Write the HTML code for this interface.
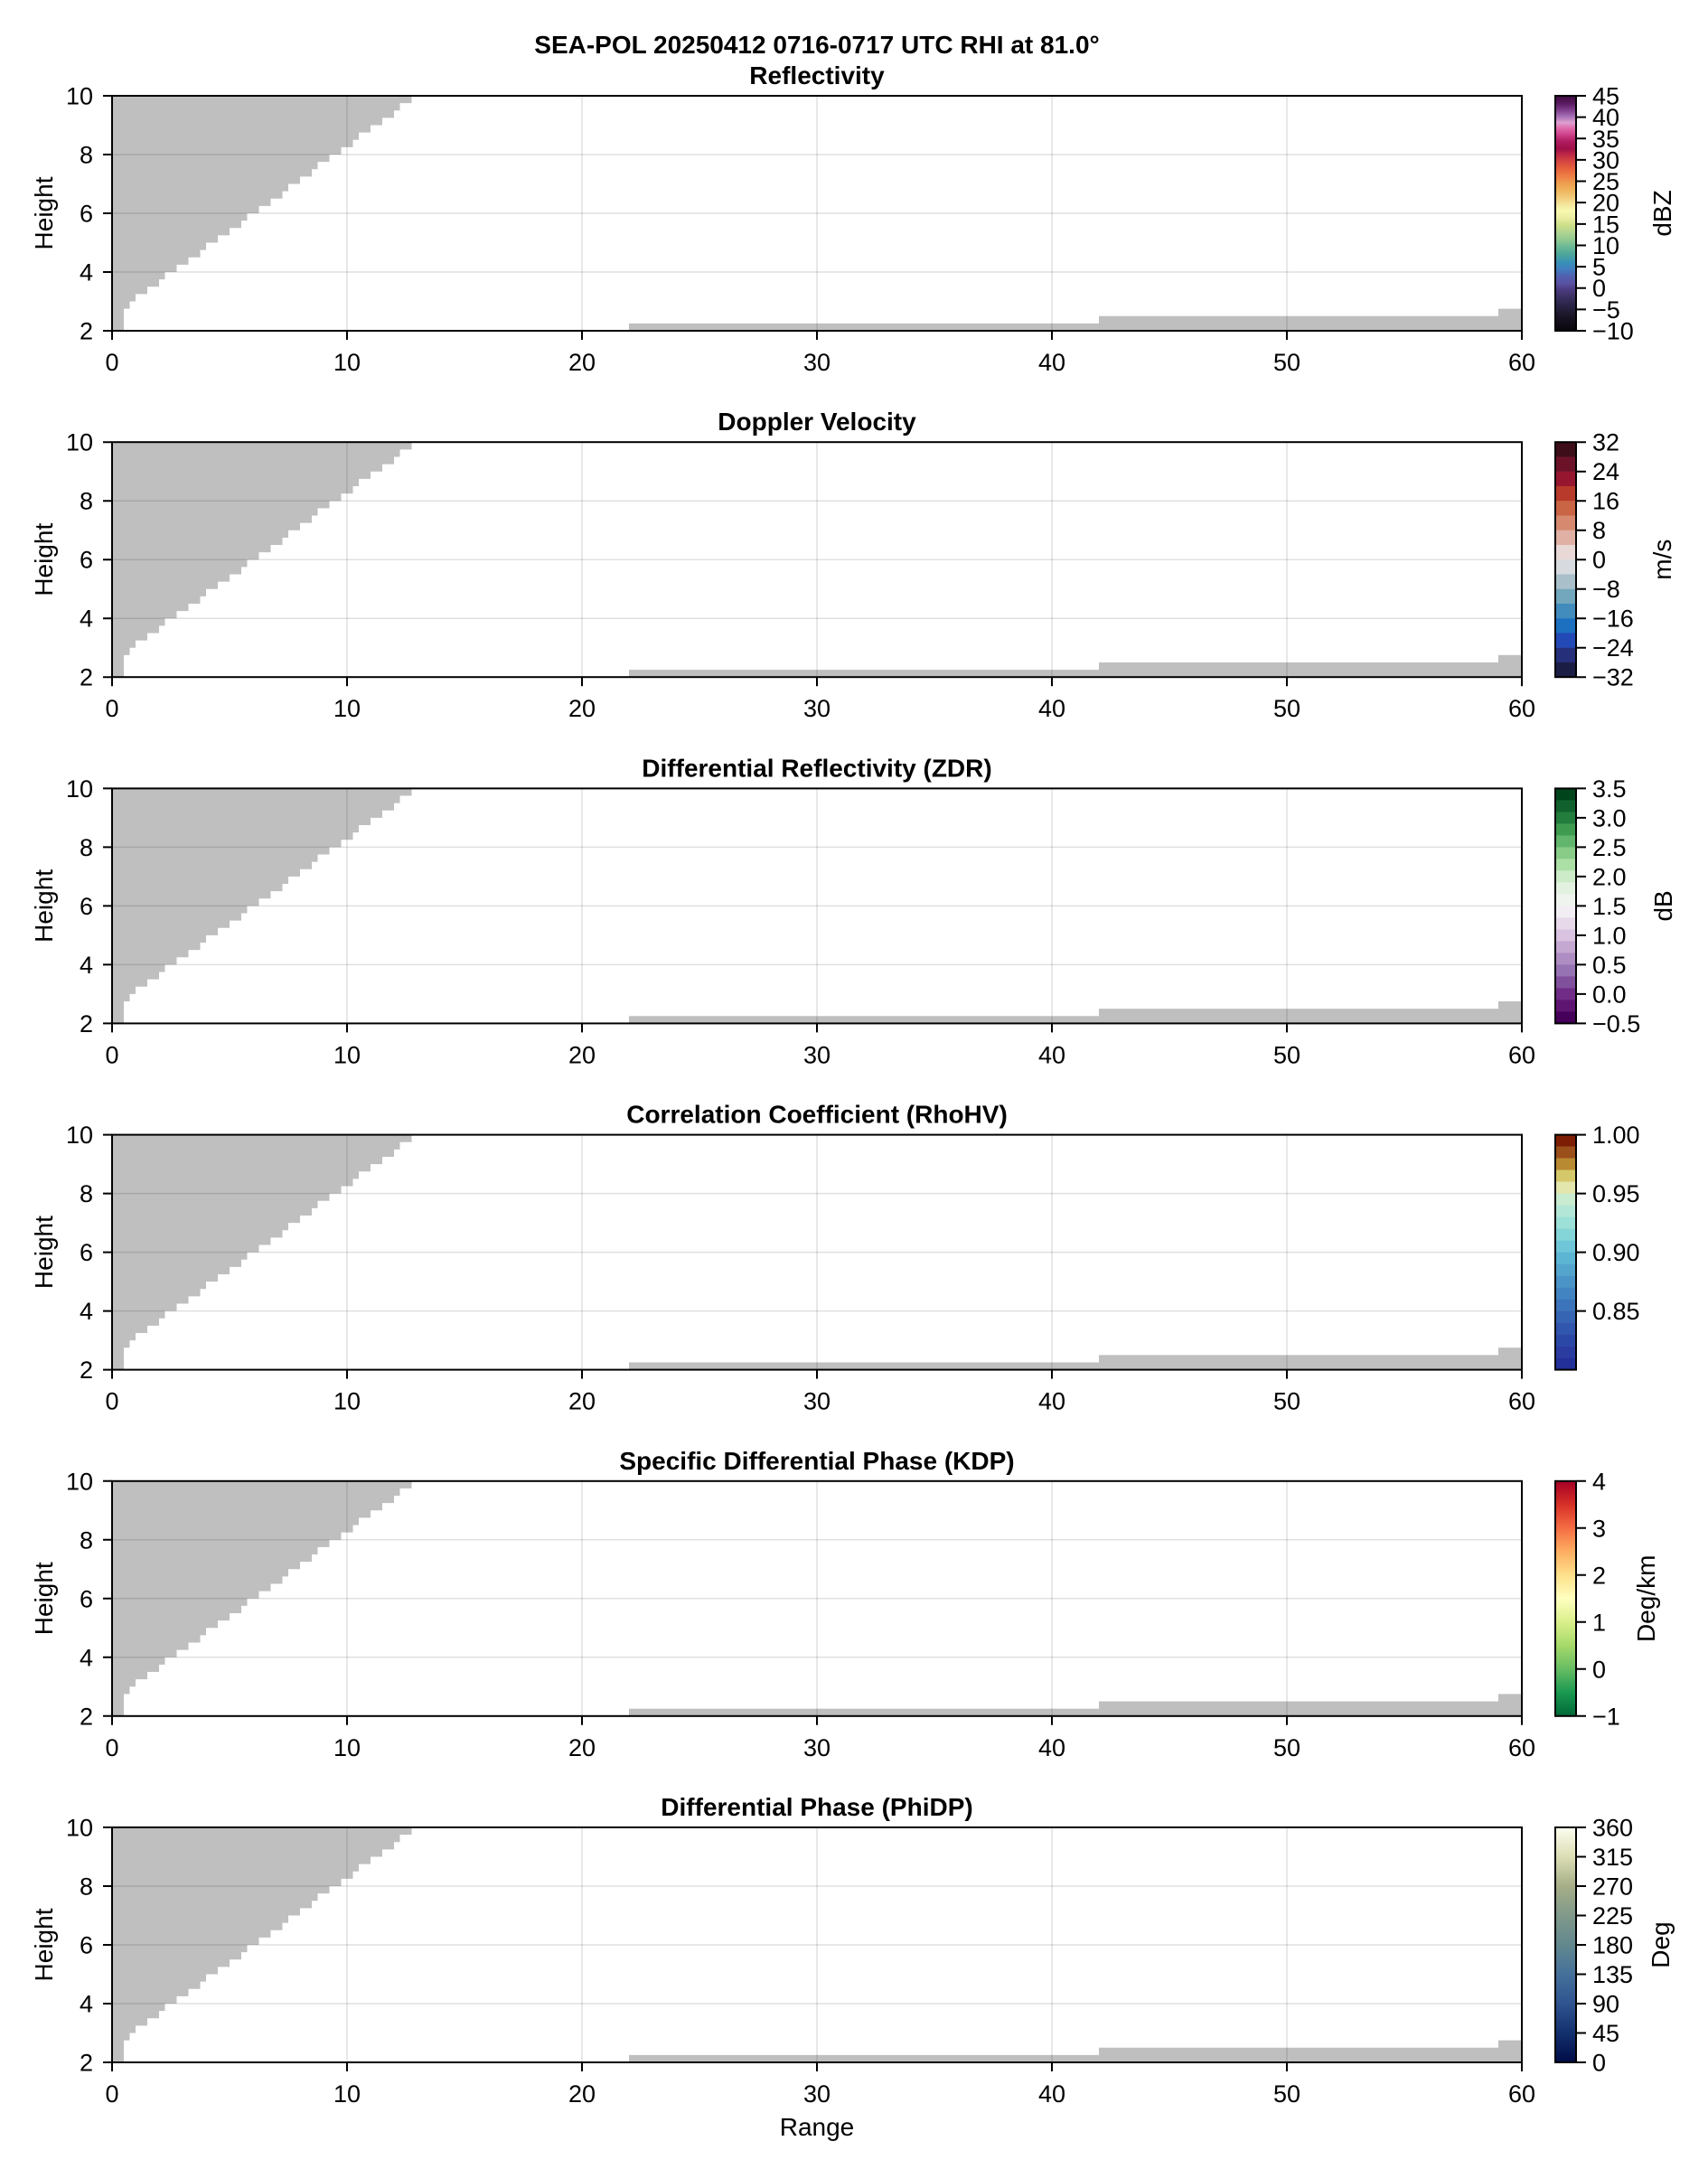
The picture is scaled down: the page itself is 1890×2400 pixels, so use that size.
<!DOCTYPE html>
<html>
<head>
<meta charset="utf-8">
<style>
html,body{margin:0;padding:0;background:#fff;}
svg{display:block;}
text{font-family:"Liberation Sans",Arial,Helvetica,sans-serif;fill:#000;}
.t{font-size:27px;}
.l{font-size:28px;}
.b{font-size:28px;font-weight:bold;}
</style>
</head>
<body>
<svg width="1890" height="2400" viewBox="0 0 1890 2400" xmlns="http://www.w3.org/2000/svg">
<defs>
  <linearGradient id="grefl" x1="0" y1="0" x2="0" y2="1">
    <stop offset="0" stop-color="#3d0a40"/>
    <stop offset="0.032" stop-color="#5a1a60"/>
    <stop offset="0.058" stop-color="#7a3a88"/>
    <stop offset="0.084" stop-color="#a068b0"/>
    <stop offset="0.114" stop-color="#dca0d0"/>
    <stop offset="0.135" stop-color="#e070b0"/>
    <stop offset="0.161" stop-color="#d04890"/>
    <stop offset="0.194" stop-color="#b01c60"/>
    <stop offset="0.226" stop-color="#a01048"/>
    <stop offset="0.252" stop-color="#c02a44"/>
    <stop offset="0.284" stop-color="#d84a40"/>
    <stop offset="0.316" stop-color="#e8663c"/>
    <stop offset="0.348" stop-color="#ee8448"/>
    <stop offset="0.374" stop-color="#eea050"/>
    <stop offset="0.406" stop-color="#f0b860"/>
    <stop offset="0.439" stop-color="#f2d080"/>
    <stop offset="0.465" stop-color="#f4e8a0"/>
    <stop offset="0.490" stop-color="#f8f8b0"/>
    <stop offset="0.523" stop-color="#e8eca0"/>
    <stop offset="0.548" stop-color="#d0e088"/>
    <stop offset="0.581" stop-color="#b0d490"/>
    <stop offset="0.613" stop-color="#90c890"/>
    <stop offset="0.645" stop-color="#68b898"/>
    <stop offset="0.671" stop-color="#50a898"/>
    <stop offset="0.710" stop-color="#3890b8"/>
    <stop offset="0.735" stop-color="#4080c0"/>
    <stop offset="0.768" stop-color="#5060b0"/>
    <stop offset="0.800" stop-color="#5a50a0"/>
    <stop offset="0.826" stop-color="#4a3a80"/>
    <stop offset="0.858" stop-color="#3a3060"/>
    <stop offset="0.890" stop-color="#2a2448"/>
    <stop offset="0.923" stop-color="#201a30"/>
    <stop offset="0.955" stop-color="#15101e"/>
    <stop offset="1" stop-color="#08060c"/>
  </linearGradient>
  <linearGradient id="gkdp" x1="0" y1="0" x2="0" y2="1">
    <stop offset="0" stop-color="#a50026"/>
    <stop offset="0.1" stop-color="#d73027"/>
    <stop offset="0.2" stop-color="#f46d43"/>
    <stop offset="0.3" stop-color="#fdae61"/>
    <stop offset="0.4" stop-color="#fee08b"/>
    <stop offset="0.5" stop-color="#ffffbf"/>
    <stop offset="0.6" stop-color="#d9ef8b"/>
    <stop offset="0.7" stop-color="#a6d96a"/>
    <stop offset="0.8" stop-color="#66bd63"/>
    <stop offset="0.9" stop-color="#1a9850"/>
    <stop offset="1" stop-color="#006837"/>
  </linearGradient>
  <linearGradient id="gphi" x1="0" y1="0" x2="0" y2="1">
    <stop offset="0" stop-color="#fdfdf0"/>
    <stop offset="0.125" stop-color="#dcdeb4"/>
    <stop offset="0.25" stop-color="#a6ae88"/>
    <stop offset="0.375" stop-color="#80998a"/>
    <stop offset="0.5" stop-color="#62888e"/>
    <stop offset="0.625" stop-color="#45709a"/>
    <stop offset="0.75" stop-color="#2f5490"/>
    <stop offset="0.875" stop-color="#13306e"/>
    <stop offset="1" stop-color="#000c48"/>
  </linearGradient>
  <g id="grey" fill="#bfbfbf">
    <path d="M0 0 H331.5 V8.125 H318.5 V16.25 H312 V24.375 H299 V32.5 H286 V40.625 H273 V48.75 H266.5 V56.875 H253.5 V65 H240.5 V73.125 H227.5 V81.25 H221 V89.375 H208 V97.5 H195 V105.625 H188.5 V113.75 H175.5 V121.875 H162.5 V130 H149.5 V138.125 H143 V146.25 H130 V154.375 H117 V162.5 H104 V170.625 H97.5 V178.75 H84.5 V186.875 H71.5 V195 H58.5 V203.125 H52 V211.25 H39 V219.375 H26 V227.5 H19.5 V235.625 H13 V260 H0 Z"/>
    <rect x="572" y="251.875" width="520" height="8.125"/>
    <rect x="1092" y="243.75" width="442" height="16.25"/>
    <rect x="1534" y="235.625" width="26" height="24.375"/>
  </g>
  <g id="grid" stroke="rgba(0,0,0,0.12)" stroke-width="1.5" fill="none">
    <line x1="260" y1="0" x2="260" y2="260"/>
    <line x1="520" y1="0" x2="520" y2="260"/>
    <line x1="780" y1="0" x2="780" y2="260"/>
    <line x1="1040" y1="0" x2="1040" y2="260"/>
    <line x1="1300" y1="0" x2="1300" y2="260"/>
    <line x1="0" y1="65" x2="1560" y2="65"/>
    <line x1="0" y1="130" x2="1560" y2="130"/>
    <line x1="0" y1="195" x2="1560" y2="195"/>
  </g>
  <g id="frame" stroke="#000" stroke-width="2" fill="none">
    <rect x="0" y="0" width="1560" height="260"/>
    <path d="M0 260 V270 M260 260 V270 M520 260 V270 M780 260 V270 M1040 260 V270 M1300 260 V270 M1560 260 V270 M0 0 H-10 M0 65 H-10 M0 130 H-10 M0 195 H-10 M0 260 H-10"/>
  </g>
</defs>

<!-- Main title -->
<text class="b" x="904" y="59" text-anchor="middle">SEA-POL 20250412 0716-0717 UTC RHI at 81.0°</text>

<!-- ========== Panel 1: Reflectivity ========== -->
<g transform="translate(124,106)">
  <use href="#grey"/>
  <use href="#grid"/>
  <use href="#frame"/>
  <text class="b" x="780" y="-13" text-anchor="middle">Reflectivity</text>
  <g class="t" text-anchor="middle">
    <text x="0" y="304">0</text><text x="260" y="304">10</text><text x="520" y="304">20</text><text x="780" y="304">30</text><text x="1040" y="304">40</text><text x="1300" y="304">50</text><text x="1560" y="304">60</text>
  </g>
  <g class="t" text-anchor="end">
    <text x="-21" y="9.5">10</text><text x="-21" y="74.5">8</text><text x="-21" y="139.5">6</text><text x="-21" y="204.5">4</text><text x="-21" y="269.5">2</text>
  </g>
  <text class="l" transform="translate(-66,130) rotate(-90)" text-anchor="middle">Height</text>
  <!-- colorbar -->
  <rect x="1597" y="0" width="23" height="260" fill="url(#grefl)"/>
  <rect x="1597" y="0" width="23" height="260" fill="none" stroke="#000" stroke-width="2"/>
  <path stroke="#000" stroke-width="2" d="M1621 0 H1631 M1621 23.64 H1631 M1621 47.27 H1631 M1621 70.91 H1631 M1621 94.55 H1631 M1621 118.18 H1631 M1621 141.82 H1631 M1621 165.45 H1631 M1621 189.09 H1631 M1621 212.73 H1631 M1621 236.36 H1631 M1621 260 H1631"/>
  <g class="t">
    <text x="1638" y="9.5">45</text><text x="1638" y="33.1">40</text><text x="1638" y="56.8">35</text><text x="1638" y="80.4">30</text><text x="1638" y="104">25</text><text x="1638" y="127.7">20</text><text x="1638" y="151.3">15</text><text x="1638" y="175">10</text><text x="1638" y="198.6">5</text><text x="1638" y="222.2">0</text><text x="1638" y="245.9">−5</text><text x="1638" y="269.5">−10</text>
  </g>
  <text class="l" transform="translate(1725,130) rotate(-90)" text-anchor="middle">dBZ</text>
</g>

<!-- ========== Panel 2: Doppler Velocity ========== -->
<g transform="translate(124,489.2)">
  <use href="#grey"/>
  <use href="#grid"/>
  <use href="#frame"/>
  <text class="b" x="780" y="-13" text-anchor="middle">Doppler Velocity</text>
  <g class="t" text-anchor="middle">
    <text x="0" y="304">0</text><text x="260" y="304">10</text><text x="520" y="304">20</text><text x="780" y="304">30</text><text x="1040" y="304">40</text><text x="1300" y="304">50</text><text x="1560" y="304">60</text>
  </g>
  <g class="t" text-anchor="end">
    <text x="-21" y="9.5">10</text><text x="-21" y="74.5">8</text><text x="-21" y="139.5">6</text><text x="-21" y="204.5">4</text><text x="-21" y="269.5">2</text>
  </g>
  <text class="l" transform="translate(-66,130) rotate(-90)" text-anchor="middle">Height</text>
  <g>
    <rect x="1597" y="0" width="23" height="16.5" fill="#3d0e1a"/>
    <rect x="1597" y="16.25" width="23" height="16.5" fill="#6b1229"/>
    <rect x="1597" y="32.5" width="23" height="16.5" fill="#961630"/>
    <rect x="1597" y="48.75" width="23" height="16.5" fill="#b83a2a"/>
    <rect x="1597" y="65" width="23" height="16.5" fill="#c96445"/>
    <rect x="1597" y="81.25" width="23" height="16.5" fill="#d6896f"/>
    <rect x="1597" y="97.5" width="23" height="16.5" fill="#e0b0a4"/>
    <rect x="1597" y="113.75" width="23" height="16.5" fill="#e8d8d6"/>
    <rect x="1597" y="130" width="23" height="16.5" fill="#d7dbdf"/>
    <rect x="1597" y="146.25" width="23" height="16.5" fill="#a9c0ca"/>
    <rect x="1597" y="162.5" width="23" height="16.5" fill="#72a7bd"/>
    <rect x="1597" y="178.75" width="23" height="16.5" fill="#428cbd"/>
    <rect x="1597" y="195" width="23" height="16.5" fill="#1d6fbf"/>
    <rect x="1597" y="211.25" width="23" height="16.5" fill="#2249b5"/>
    <rect x="1597" y="227.5" width="23" height="16.5" fill="#262f7a"/>
    <rect x="1597" y="243.75" width="23" height="16.25" fill="#1c1d45"/>
  </g>
  <rect x="1597" y="0" width="23" height="260" fill="none" stroke="#000" stroke-width="2"/>
  <path stroke="#000" stroke-width="2" d="M1621 0 H1631 M1621 32.5 H1631 M1621 65 H1631 M1621 97.5 H1631 M1621 130 H1631 M1621 162.5 H1631 M1621 195 H1631 M1621 227.5 H1631 M1621 260 H1631"/>
  <g class="t">
    <text x="1638" y="9.5">32</text><text x="1638" y="42">24</text><text x="1638" y="74.5">16</text><text x="1638" y="107">8</text><text x="1638" y="139.5">0</text><text x="1638" y="172">−8</text><text x="1638" y="204.5">−16</text><text x="1638" y="237">−24</text><text x="1638" y="269.5">−32</text>
  </g>
  <text class="l" transform="translate(1725,130) rotate(-90)" text-anchor="middle">m/s</text>
</g>

<!-- ========== Panel 3: ZDR ========== -->
<g transform="translate(124,872.4)">
  <use href="#grey"/>
  <use href="#grid"/>
  <use href="#frame"/>
  <text class="b" x="780" y="-13" text-anchor="middle">Differential Reflectivity (ZDR)</text>
  <g class="t" text-anchor="middle">
    <text x="0" y="304">0</text><text x="260" y="304">10</text><text x="520" y="304">20</text><text x="780" y="304">30</text><text x="1040" y="304">40</text><text x="1300" y="304">50</text><text x="1560" y="304">60</text>
  </g>
  <g class="t" text-anchor="end">
    <text x="-21" y="9.5">10</text><text x="-21" y="74.5">8</text><text x="-21" y="139.5">6</text><text x="-21" y="204.5">4</text><text x="-21" y="269.5">2</text>
  </g>
  <text class="l" transform="translate(-66,130) rotate(-90)" text-anchor="middle">Height</text>
  <g>
    <rect x="1597" y="0" width="23" height="13.3" fill="#00441b"/>
    <rect x="1597" y="13" width="23" height="13.3" fill="#10612e"/>
    <rect x="1597" y="26" width="23" height="13.3" fill="#237d3c"/>
    <rect x="1597" y="39" width="23" height="13.3" fill="#3e9b50"/>
    <rect x="1597" y="52" width="23" height="13.3" fill="#62b56c"/>
    <rect x="1597" y="65" width="23" height="13.3" fill="#88cc88"/>
    <rect x="1597" y="78" width="23" height="13.3" fill="#acdfa5"/>
    <rect x="1597" y="91" width="23" height="13.3" fill="#cdebc9"/>
    <rect x="1597" y="104" width="23" height="13.3" fill="#e3f2e0"/>
    <rect x="1597" y="117" width="23" height="13.3" fill="#eff4ef"/>
    <rect x="1597" y="130" width="23" height="13.3" fill="#f2eef4"/>
    <rect x="1597" y="143" width="23" height="13.3" fill="#e7d9ea"/>
    <rect x="1597" y="156" width="23" height="13.3" fill="#d9c3e0"/>
    <rect x="1597" y="169" width="23" height="13.3" fill="#c4a8d1"/>
    <rect x="1597" y="182" width="23" height="13.3" fill="#ad8dc2"/>
    <rect x="1597" y="195" width="23" height="13.3" fill="#9673b2"/>
    <rect x="1597" y="208" width="23" height="13.3" fill="#80509d"/>
    <rect x="1597" y="221" width="23" height="13.3" fill="#702c86"/>
    <rect x="1597" y="234" width="23" height="13.3" fill="#5e1572"/>
    <rect x="1597" y="247" width="23" height="13" fill="#45005a"/>
  </g>
  <rect x="1597" y="0" width="23" height="260" fill="none" stroke="#000" stroke-width="2"/>
  <path stroke="#000" stroke-width="2" d="M1621 0 H1631 M1621 32.5 H1631 M1621 65 H1631 M1621 97.5 H1631 M1621 130 H1631 M1621 162.5 H1631 M1621 195 H1631 M1621 227.5 H1631 M1621 260 H1631"/>
  <g class="t">
    <text x="1638" y="9.5">3.5</text><text x="1638" y="42">3.0</text><text x="1638" y="74.5">2.5</text><text x="1638" y="107">2.0</text><text x="1638" y="139.5">1.5</text><text x="1638" y="172">1.0</text><text x="1638" y="204.5">0.5</text><text x="1638" y="237">0.0</text><text x="1638" y="269.5">−0.5</text>
  </g>
  <text class="l" transform="translate(1726,130) rotate(-90)" text-anchor="middle">dB</text>
</g>

<!-- ========== Panel 4: RhoHV ========== -->
<g transform="translate(124,1255.6)">
  <use href="#grey"/>
  <use href="#grid"/>
  <use href="#frame"/>
  <text class="b" x="780" y="-13" text-anchor="middle">Correlation Coefficient (RhoHV)</text>
  <g class="t" text-anchor="middle">
    <text x="0" y="304">0</text><text x="260" y="304">10</text><text x="520" y="304">20</text><text x="780" y="304">30</text><text x="1040" y="304">40</text><text x="1300" y="304">50</text><text x="1560" y="304">60</text>
  </g>
  <g class="t" text-anchor="end">
    <text x="-21" y="9.5">10</text><text x="-21" y="74.5">8</text><text x="-21" y="139.5">6</text><text x="-21" y="204.5">4</text><text x="-21" y="269.5">2</text>
  </g>
  <text class="l" transform="translate(-66,130) rotate(-90)" text-anchor="middle">Height</text>
  <g>
    <rect x="1597" y="0" width="23" height="13.3" fill="#7d1e04"/>
    <rect x="1597" y="13" width="23" height="13.3" fill="#9b4f1a"/>
    <rect x="1597" y="26" width="23" height="13.3" fill="#b88a31"/>
    <rect x="1597" y="39" width="23" height="13.3" fill="#d5c86a"/>
    <rect x="1597" y="52" width="23" height="13.3" fill="#e3e6ad"/>
    <rect x="1597" y="65" width="23" height="13.3" fill="#c9ebcf"/>
    <rect x="1597" y="78" width="23" height="13.3" fill="#b3e6d6"/>
    <rect x="1597" y="91" width="23" height="13.3" fill="#9ce0d8"/>
    <rect x="1597" y="104" width="23" height="13.3" fill="#84d5d8"/>
    <rect x="1597" y="117" width="23" height="13.3" fill="#6ec6d8"/>
    <rect x="1597" y="130" width="23" height="13.3" fill="#5cb5d3"/>
    <rect x="1597" y="143" width="23" height="13.3" fill="#53a5cd"/>
    <rect x="1597" y="156" width="23" height="13.3" fill="#4a94c8"/>
    <rect x="1597" y="169" width="23" height="13.3" fill="#4284c1"/>
    <rect x="1597" y="182" width="23" height="13.3" fill="#3b74ba"/>
    <rect x="1597" y="195" width="23" height="13.3" fill="#3665b4"/>
    <rect x="1597" y="208" width="23" height="13.3" fill="#3156ad"/>
    <rect x="1597" y="221" width="23" height="13.3" fill="#2c48a7"/>
    <rect x="1597" y="234" width="23" height="13.3" fill="#2a3ca0"/>
    <rect x="1597" y="247" width="23" height="13" fill="#23309a"/>
  </g>
  <rect x="1597" y="0" width="23" height="260" fill="none" stroke="#000" stroke-width="2"/>
  <path stroke="#000" stroke-width="2" d="M1621 0 H1631 M1621 65 H1631 M1621 130 H1631 M1621 195 H1631"/>
  <g class="t">
    <text x="1638" y="9.5">1.00</text><text x="1638" y="74.5">0.95</text><text x="1638" y="139.5">0.90</text><text x="1638" y="204.5">0.85</text>
  </g>
</g>

<!-- ========== Panel 5: KDP ========== -->
<g transform="translate(124,1638.8)">
  <use href="#grey"/>
  <use href="#grid"/>
  <use href="#frame"/>
  <text class="b" x="780" y="-13" text-anchor="middle">Specific Differential Phase (KDP)</text>
  <g class="t" text-anchor="middle">
    <text x="0" y="304">0</text><text x="260" y="304">10</text><text x="520" y="304">20</text><text x="780" y="304">30</text><text x="1040" y="304">40</text><text x="1300" y="304">50</text><text x="1560" y="304">60</text>
  </g>
  <g class="t" text-anchor="end">
    <text x="-21" y="9.5">10</text><text x="-21" y="74.5">8</text><text x="-21" y="139.5">6</text><text x="-21" y="204.5">4</text><text x="-21" y="269.5">2</text>
  </g>
  <text class="l" transform="translate(-66,130) rotate(-90)" text-anchor="middle">Height</text>
  <rect x="1597" y="0" width="23" height="260" fill="url(#gkdp)"/>
  <rect x="1597" y="0" width="23" height="260" fill="none" stroke="#000" stroke-width="2"/>
  <path stroke="#000" stroke-width="2" d="M1621 0 H1631 M1621 52 H1631 M1621 104 H1631 M1621 156 H1631 M1621 208 H1631 M1621 260 H1631"/>
  <g class="t">
    <text x="1638" y="9.5">4</text><text x="1638" y="61.5">3</text><text x="1638" y="113.5">2</text><text x="1638" y="165.5">1</text><text x="1638" y="217.5">0</text><text x="1638" y="269.5">−1</text>
  </g>
  <text class="l" transform="translate(1707,130) rotate(-90)" text-anchor="middle">Deg/km</text>
</g>

<!-- ========== Panel 6: PhiDP ========== -->
<g transform="translate(124,2022)">
  <use href="#grey"/>
  <use href="#grid"/>
  <use href="#frame"/>
  <text class="b" x="780" y="-13" text-anchor="middle">Differential Phase (PhiDP)</text>
  <g class="t" text-anchor="middle">
    <text x="0" y="304">0</text><text x="260" y="304">10</text><text x="520" y="304">20</text><text x="780" y="304">30</text><text x="1040" y="304">40</text><text x="1300" y="304">50</text><text x="1560" y="304">60</text>
  </g>
  <g class="t" text-anchor="end">
    <text x="-21" y="9.5">10</text><text x="-21" y="74.5">8</text><text x="-21" y="139.5">6</text><text x="-21" y="204.5">4</text><text x="-21" y="269.5">2</text>
  </g>
  <text class="l" transform="translate(-66,130) rotate(-90)" text-anchor="middle">Height</text>
  <text class="l" x="780" y="341" text-anchor="middle">Range</text>
  <rect x="1597" y="0" width="23" height="260" fill="url(#gphi)"/>
  <rect x="1597" y="0" width="23" height="260" fill="none" stroke="#000" stroke-width="2"/>
  <path stroke="#000" stroke-width="2" d="M1621 0 H1631 M1621 32.5 H1631 M1621 65 H1631 M1621 97.5 H1631 M1621 130 H1631 M1621 162.5 H1631 M1621 195 H1631 M1621 227.5 H1631 M1621 260 H1631"/>
  <g class="t">
    <text x="1638" y="9.5">360</text><text x="1638" y="42">315</text><text x="1638" y="74.5">270</text><text x="1638" y="107">225</text><text x="1638" y="139.5">180</text><text x="1638" y="172">135</text><text x="1638" y="204.5">90</text><text x="1638" y="237">45</text><text x="1638" y="269.5">0</text>
  </g>
  <text class="l" transform="translate(1723,130) rotate(-90)" text-anchor="middle">Deg</text>
</g>
</svg>
</body>
</html>
